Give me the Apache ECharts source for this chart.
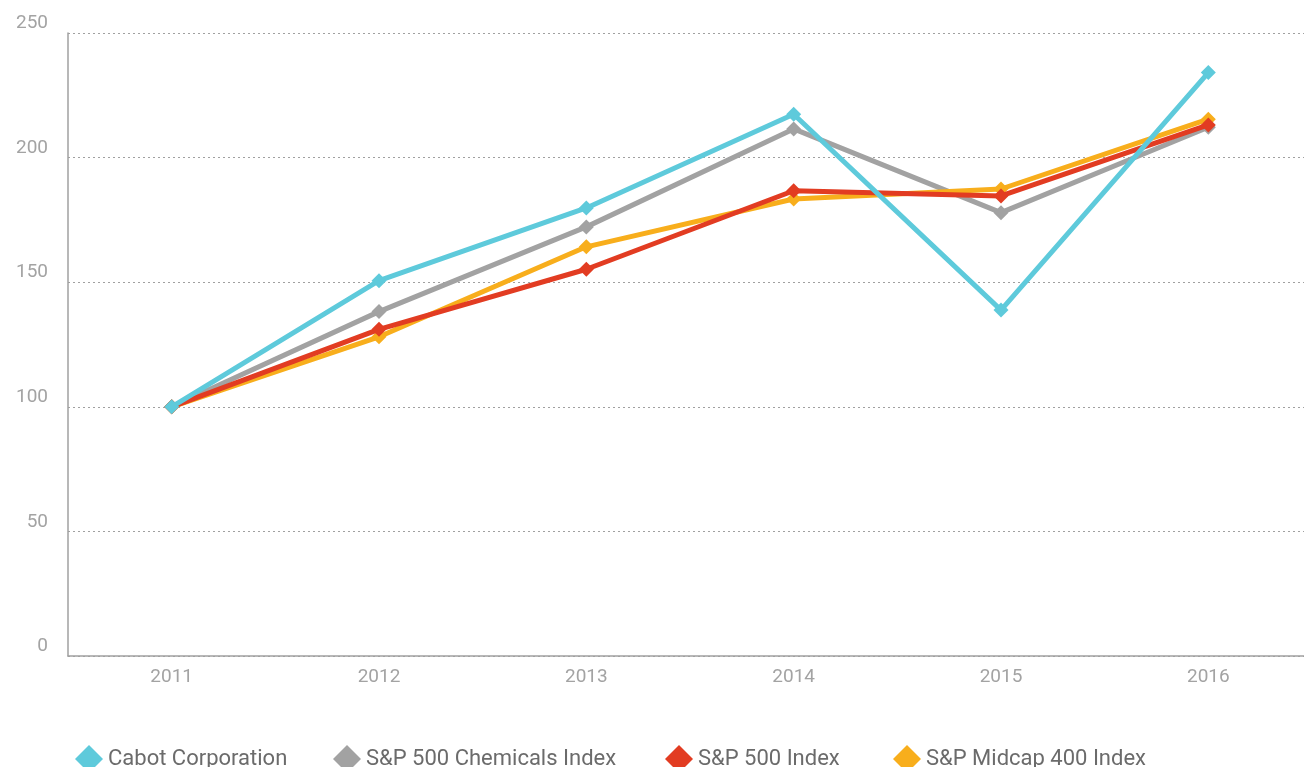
<!DOCTYPE html>
<html>
<head>
<meta charset="utf-8">
<script src="https://cdn.jsdelivr.net/npm/echarts@6/dist/echarts.min.js"></script>
<style>
  html, body { margin: 0; padding: 0; background: #fff; }
  #chart { width: 1304px; height: 767px; }
</style>
</head>
<body>
<div id="chart"></div>
<script>
// data
const years = ['2011', '2012', '2013', '2014', '2015', '2016']
const cabot = [100, 150.6, 179.8, 217.4, 138.8, 234.1]
const chemicals = [100, 138.2, 172.2, 211.5, 177.9, 212.2]
const sp500 = [100, 131.1, 155.2, 186.7, 184.6, 213.1]
const midcap = [100, 128.1, 164.2, 183.4, 187.4, 215.4]

const names = ['Cabot Corporation', 'S&P 500 Chemicals Index', 'S&P 500 Index', 'S&P Midcap 400 Index']
const legendLeft = [70, 328, 660, 888]

const font = 'Roboto, "DejaVu Sans", sans-serif'

function line (name, data, color, z) {
  return {
    name: name,
    type: 'line',
    data: data,
    z: z,
    symbol: 'diamond',
    symbolSize: 15,
    showAllSymbol: true,
    itemStyle: { color: color },
    lineStyle: { color: color, width: 5 },
    emphasis: { disabled: true },
    animation: false
  }
}

const chart = echarts.init(document.getElementById('chart'))
chart.setOption({
  backgroundColor: '#fff',
  grid: { left: 68, top: 33, right: -8, bottom: 111, outerBoundsMode: 'none' },
  legend: names.map((n, i) => ({
    left: legendLeft[i],
    top: 740,
    icon: 'diamond',
    itemWidth: 28,
    itemHeight: 28,
    itemGap: 8,
    textStyle: { color: '#6b6b6b', fontSize: 22, fontFamily: font },
    data: [n]
  })),
  xAxis: {
    type: 'category',
    data: years,
    axisLine: { lineStyle: { color: '#a0a0a0', width: 1.5 } },
    axisTick: { show: false },
    axisLabel: { color: '#a3a3a3', fontSize: 19, fontFamily: font, margin: 12 }
  },
  yAxis: {
    type: 'value',
    min: 0,
    max: 250,
    interval: 50,
    axisLine: { show: true, lineStyle: { color: '#a0a0a0', width: 1.5 } },
    axisTick: { show: false },
    splitLine: { lineStyle: { color: '#a0a0a0', type: [2, 3], width: 1.2 } },
    axisLabel: {
      color: '#a3a3a3', fontSize: 19, fontFamily: font,
      margin: 20, verticalAlign: 'bottom'
    }
  },
  series: [
    line(names[1], chemicals, '#a2a2a2', 2),
    line(names[3], midcap, '#f8ae1c', 3),
    line(names[2], sp500, '#e23c22', 4),
    line(names[0], cabot, '#5ecadb', 5)
  ]
})
</script>
</body>
</html>
